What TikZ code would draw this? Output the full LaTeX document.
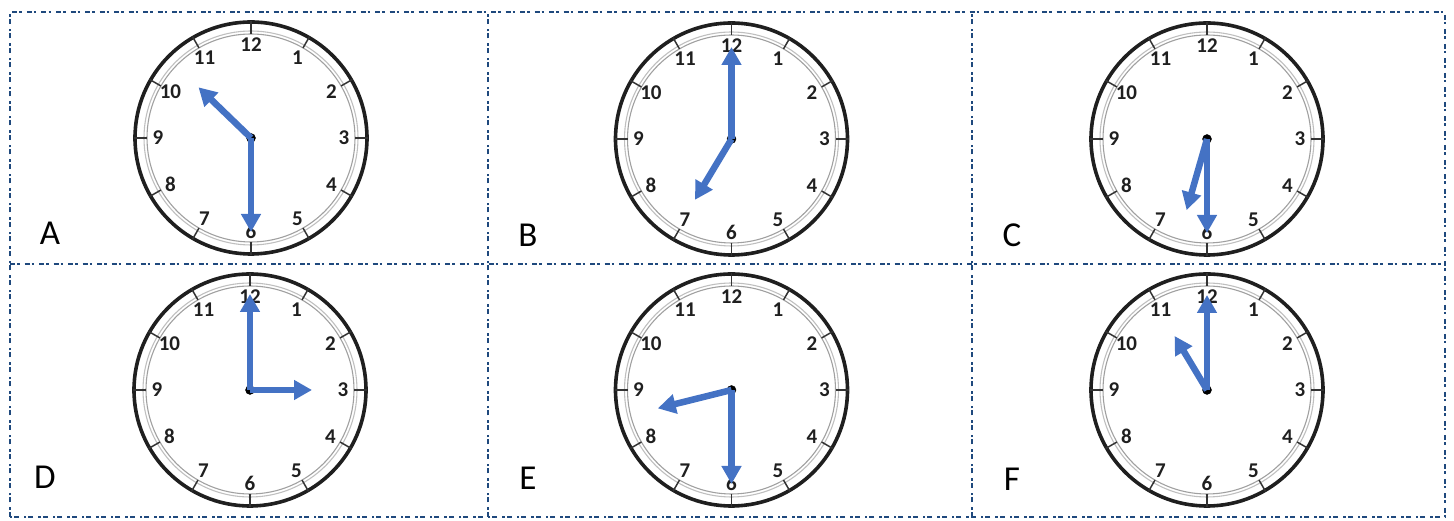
\documentclass[tikz,border=0pt]{standalone}
\usepackage{fontspec}
\setmainfont{Carlito}
\usetikzlibrary{arrows.meta}
\definecolor{handblue}{RGB}{68,114,196}
\definecolor{framenavy}{RGB}{31,73,125}
\definecolor{ringgray}{RGB}{160,160,160}
\tikzset{
  frameline/.style={framenavy, line width=2.6pt, dash pattern={on 5pt off 2pt on 2.5pt off 5pt}},
  rim/.style={line width=3.6pt, black!88},
  ring/.style={line width=1.1pt, ringgray},
  hourtick/.style={line width=1.5pt, black!80},
  num/.style={font=\bfseries\fontsize{21}{21}\selectfont, text=black!88, inner sep=0pt},
  letter/.style={font=\fontsize{35}{35}\selectfont, inner sep=0pt},
  hand/.style={handblue, line width=6.5pt, -{Triangle[width=19pt,length=18pt]}}
}
\begin{document}
\begin{tikzpicture}[x=1pt,y=1pt]
				\useasboundingbox (0,0) rectangle (1454,521);

				% clock centres
				\coordinate (A) at (251,383);
				\coordinate (B) at (731.5,382);
				\coordinate (C) at (1207,382);
				\coordinate (D) at (250,131);
				\coordinate (E) at (731.5,131);
				\coordinate (F) at (1207,131);

				% dashed frame of the six panels
				\draw[frameline] (10,4) rectangle (1445,509);
				\draw[frameline] (10,257) -- (1445,257);
				\draw[frameline] (488,4) -- (488,509);
				\draw[frameline] (972,4) -- (972,509);

				\node[letter] (labA) at (50,288) {A};
				\node[letter] (labB) at (528,286) {B};
				\node[letter] (labC) at (1012,286) {C};
				\node[letter] (labD) at (45,44) {D};
				\node[letter] (labE) at (528,43) {E};
				\node[letter] (labF) at (1012,42) {F};

				% clock name / hour hand angle / length / minute hand angle / length
				\foreach \c/\ha/\hl/\ma/\ml in {A/136/73/-90/94, B/239/71/90/92, C/254/74/-90/94,
						D/0/62/90/96, E/194/76/-90/94, F/121/63/90/95}{
						\begin{scope}[shift={(\c)}]
								\draw[rim] (0,0) circle[radius=116];
								\draw[ring] (0,0) circle[radius=104];
								\draw[ring, black!25] (0,0) circle[radius=107];
								\foreach \k in {1, ..., 12}{
										\draw[hourtick] (90-30*\k:104) -- (90-30*\k:117);
										\node[num] (\c-\k) at (90-30*\k:93) {\k};
									}
								\coordinate (\c-hr) at (\ha:\hl);
								\coordinate (\c-min) at (\ma:\ml);
								\filldraw[black] (0,0) circle (4.5pt);
								\draw[hand] (\c) -- (\c-min);
								\draw[hand] (\c) -- (\c-hr);
						\end{scope}
					}
			\end{tikzpicture}
\end{document}
